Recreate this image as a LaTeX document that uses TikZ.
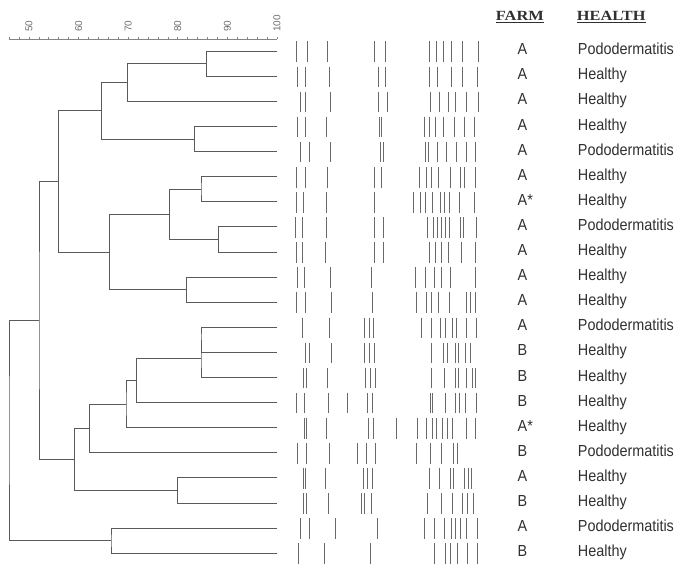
\documentclass[tikz,border=0pt]{standalone}
\usepackage{fontspec}
\usetikzlibrary{calc}

\newfontfamily\lblfont[FakeStretch=0.9]{Liberation Sans}
\newfontfamily\headfont[FakeStretch=1.17]{Liberation Serif}
\newfontfamily\scalefont{Liberation Sans}

\definecolor{treegray}{HTML}{5A5A5A}
\definecolor{bandgray}{HTML}{6A6A6A}
\definecolor{axisgray}{HTML}{858585}
\definecolor{scalegray}{HTML}{6E6E6E}
\definecolor{textgray}{HTML}{303030}

% 合并两个子簇：名字, x, 子A, 子B
\newcommand\joinpair[4]{%
  \path ($(#3)!.5!(#4)$) coordinate (tmpmid);
  \coordinate (tmpx) at (#2,0);
  \coordinate (#1) at (tmpx |- tmpmid);
  \draw[tree] (#3) -| (#1) |- (#4);}

% 一行条带：行号, x 列表
\newcommand\bandrow[2]{%
  \foreach \bx in {#2}
    \draw[band] (\bx,{51.7+25.1*#1-10.3}) -- (\bx,{51.7+25.1*#1+10.3});}

\begin{document}
\begin{tikzpicture}[x=1pt, y=-1pt,
  tree/.style={draw=treegray, line width=0.9pt},
  band/.style={draw=bandgray, line width=1pt},
  axis/.style={draw=axisgray, line width=0.7pt},
  scalelbl/.style={anchor=west, rotate=90, inner sep=0pt, text=scalegray, font=\scalefont\fontsize{10}{12}\selectfont},
  head/.style={anchor=base west, inner sep=0pt, text=textgray, font=\headfont\bfseries\fontsize{14}{16}\selectfont},
  uline/.style={draw=textgray, line width=0.8pt},
  farmlbl/.style={anchor=base west, inner sep=0pt, text=textgray, font=\lblfont\fontsize{16}{18}\selectfont},
  healthlbl/.style={anchor=base west, inner sep=0pt, text=textgray, font=\lblfont\fontsize{16}{18}\selectfont}]

  %% ════ 刻度尺 ════
  \draw[axis] (9,39) -- (277,39);
  \foreach \v in {46,48,...,100}
    \draw[axis] ({277-(100-\v)*4.96},39) -- ++(0,-2.5);
  \foreach \v in {50,60,...,100}
    \node[scalelbl] (s\v) at ({277-(100-\v)*4.96},32) {\v};

  %% ════ 叶子 ════
  \foreach \i in {0,...,20}
    \coordinate (l\i) at (277,{51.2+25.1*\i});

  %% ════ 树（x 为像素，约 4.96 px / %）════
  \joinpair{nA}{206.7}{l0}{l1}
  \joinpair{nB}{127.7}{nA}{l2}
  \joinpair{nC}{194.3}{l3}{l4}
  \joinpair{nD}{101.7}{nB}{nC}
  \joinpair{nE}{201.0}{l5}{l6}
  \joinpair{nF}{218.3}{l7}{l8}
  \joinpair{nG}{169.3}{nE}{nF}
  \joinpair{nH}{186.7}{l9}{l10}
  \joinpair{nI}{109.3}{nG}{nH}
  \joinpair{nJ}{58.7}{nD}{nI}
  \joinpair{nK1}{201.0}{l11}{l12}
  \joinpair{nK}{201.0}{nK1}{l13}
  \joinpair{nL}{136.7}{nK}{l14}
  \joinpair{nM}{126.0}{nL}{l15}
  \joinpair{nN}{89.3}{nM}{l16}
  \joinpair{nO}{177.7}{l17}{l18}
  \joinpair{nP}{74.3}{nN}{nO}
  \joinpair{nQ}{39.0}{nJ}{nP}
  \joinpair{nR}{111.0}{l19}{l20}
  \joinpair{root}{9.0}{nQ}{nR}

  %% ════ 条带 ════
  \bandrow{0}{296.7,307.3,327.7,374,385.7,429,436.7,443.7,451.7,462.3,478.3}
  \bandrow{1}{297.7,305.7,329,378.3,385.7,429.3,437.3,451.7,462.3,477.3}
  \bandrow{2}{300,305.7,330,378.3,387,430.3,439,448.3,455,466.7,478.3}
  \bandrow{3}{297.7,305.7,326.7,379.3,381.7,424,429,435.7,443.3,454.3,464,474}
  \bandrow{4}{300,309,330,380,383.3,425.7,428.3,437.7,446,456,466.7,475.7}
  \bandrow{5}{296.7,305.7,327.7,374.3,381,419.3,426,431.7,438.3,450.7,460,464,475}
  \bandrow{6}{296.7,303.3,326,374,413.3,420,425.7,432.7,440,444.3,449,459.3,474.3}
  \bandrow{7}{295.7,302.3,326.7,374.3,383.3,427.3,433.3,437.3,441,445,449.3,460,463.3,476}
  \bandrow{8}{296.7,302.3,325.7,374.3,383.3,429,435.7,441,448.3,461.7,475}
  \bandrow{9}{297.7,304.3,330,371,415.7,425.7,434.3,441.7,450.7,475}
  \bandrow{10}{296.7,305.7,331.7,372.7,416.7,426.7,431.7,438.3,449,466,470.7,475.7}
  \bandrow{11}{302.3,329,364.3,369,373.3,421,431.7,440,445,452.7,456.7,466.7,476.7}
  \bandrow{12}{305,309,331.7,364.3,369,374.3,431.7,443.3,447.3,455.7,458.3,465,470.7}
  \bandrow{13}{303.3,306.7,327.3,365.7,370,375,431.7,444,455,458.3,466.7,472.3,475.7}
  \bandrow{14}{296.7,304.3,328.3,347.3,367.7,372.3,430,432.3,445,455,459,465,476}
  \bandrow{15}{304,306.7,326.7,368.3,373.3,396.7,417.3,426.7,432.7,436.7,442.3,447.3,452.7,466.7,475}
  \bandrow{16}{297.7,306.7,329,357.7,366.7,375,416,430,441.7,453.3,457.7}
  \bandrow{17}{303.3,305.7,325.7,363.3,367.7,372.3,429.3,439,450.7,453.3,464,468.3,471}
  \bandrow{18}{303.3,306.7,328.3,361.7,364.3,371,427.7,441,452.7,462.3,467.7,473.3}
  \bandrow{19}{300.7,309,335.7,377.3,424,434,444,451.7,455,460,466.7,477.7}
  \bandrow{20}{298.3,324,370.7,434.3,445,450.7,457.3,467.7,477.7}

  %% ════ 表头 ════
  \node[head] (farm) at (495.7,20) {FARM};
  \node[head] (health) at (576.7,20) {HEALTH};
  \draw[uline] ([yshift=-2.7pt]farm.base west) -- ([yshift=-2.7pt]farm.base east);
  \draw[uline] ([yshift=-2.7pt]health.base west) -- ([yshift=-2.7pt]health.base east);

  %% ════ 标签 ════
  \foreach \i/\f/\h in {0/A/Pododermatitis, 1/A/Healthy, 2/A/Healthy, 3/A/Healthy,
      4/A/Pododermatitis, 5/A/Healthy, 6/A*/Healthy, 7/A/Pododermatitis,
      8/A/Healthy, 9/A/Healthy, 10/A/Healthy, 11/A/Pododermatitis,
      12/B/Healthy, 13/B/Healthy, 14/B/Healthy, 15/A*/Healthy,
      16/B/Pododermatitis, 17/A/Healthy, 18/B/Healthy, 19/A/Pododermatitis,
      20/B/Healthy}{
    \node[farmlbl] (f\i) at (517.5,{51.2+25.1*\i+3.5}) {\f};
    \node[healthlbl] (h\i) at (577.7,{51.2+25.1*\i+3.5}) {\h};
  }

  % 钉死画布
  \pgfresetboundingbox
  \path[use as bounding box] (0,0) rectangle (681,574);
\end{tikzpicture}
\end{document}
